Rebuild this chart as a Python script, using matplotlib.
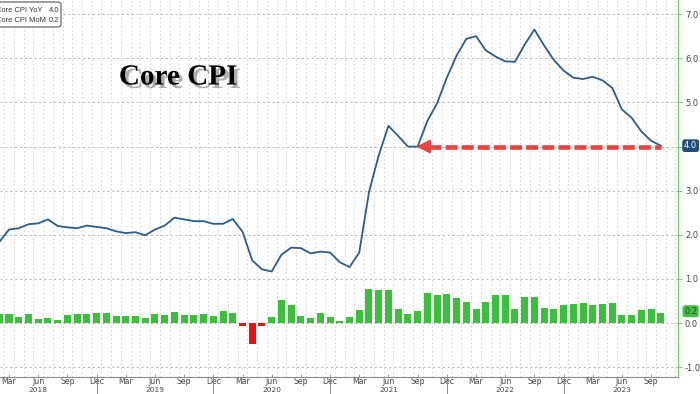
import matplotlib
matplotlib.use("Agg")
import matplotlib.pyplot as plt
import matplotlib.patheffects as pe
from matplotlib.patches import Polygon, FancyBboxPatch
from matplotlib.transforms import blended_transform_factory
import numpy as np

plt.rcParams['lines.scale_dashes'] = False

# ---- data (monthly, Jan 2018 .. Oct 2023) ----
core_cpi_yoy = [
    1.80, 1.84, 2.12, 2.15, 2.24, 2.26, 2.35, 2.20, 2.17, 2.15, 2.21, 2.18,   # 2018
    2.15, 2.08, 2.04, 2.06, 1.99, 2.12, 2.21, 2.39, 2.35, 2.31, 2.31, 2.25,   # 2019
    2.25, 2.36, 2.07, 1.42, 1.22, 1.17, 1.55, 1.71, 1.70, 1.58, 1.62, 1.60,   # 2020
    1.38, 1.27, 1.60, 2.97, 3.80, 4.47, 4.24, 4.00, 4.00, 4.58, 4.98, 5.56,   # 2021
    6.06, 6.44, 6.50, 6.18, 6.04, 5.93, 5.92, 6.31, 6.65, 6.29, 5.96, 5.72,   # 2022
    5.56, 5.53, 5.58, 5.50, 5.33, 4.84, 4.65, 4.34, 4.13, 4.02,               # 2023
]
core_cpi_mom = [
    0.30, 0.21, 0.21, 0.14, 0.20, 0.09, 0.12, 0.06, 0.18, 0.21, 0.21, 0.24,   # 2018
    0.24, 0.16, 0.17, 0.16, 0.12, 0.21, 0.18, 0.26, 0.18, 0.19, 0.20, 0.17,   # 2019
    0.27, 0.24, -0.07, -0.48, -0.07, 0.14, 0.53, 0.42, 0.17, 0.11, 0.24, 0.14, # 2020
    0.04, 0.14, 0.30, 0.78, 0.75, 0.75, 0.32, 0.20, 0.27, 0.68, 0.64, 0.67,   # 2021
    0.57, 0.49, 0.32, 0.49, 0.64, 0.63, 0.32, 0.60, 0.59, 0.35, 0.32, 0.42,   # 2022
    0.43, 0.46, 0.41, 0.43, 0.45, 0.18, 0.18, 0.29, 0.32, 0.24,               # 2023
]
years = ['2018', '2019', '2020', '2021', '2022', '2023']
quarter_months = ['Mar', 'Jun', 'Sep', 'Dec']
y_ticks = [-1.0, 0.0, 1.0, 2.0, 3.0, 4.0, 5.0, 6.0, 7.0]
legend_labels = ['Core CPI YoY', 'Core CPI MoM']
legend_values = ['4.0', '0.2']
title = 'Core CPI'

x = np.arange(len(core_cpi_yoy))

W, H = 700, 394
fig = plt.figure(figsize=(W / 100, H / 100), dpi=100)
fig.patch.set_facecolor('white')
ax = fig.add_axes([0, 17 / H, 678 / W, 377 / H])
ax.set_xlim(1.075, 70.76)
ax.set_ylim(-1.22, 7.32)

# grid
for m in range(len(x) + 2):
    ax.axvline(m + 0.5, color='#c4c4c4', lw=0.6, ls=(0, (1, 2)), zorder=0)
for v in y_ticks:
    ax.axhline(v, color='#a8a8a8', lw=0.6, ls=(0, (1.5, 2)), zorder=0)

# bars
colors = ['#3cbf3c' if v >= 0 else '#f01010' for v in core_cpi_mom]
ax.bar(x, core_cpi_mom, width=0.72, color=colors, zorder=2)

# line
ax.plot(x, core_cpi_yoy, color='#2a5d8c', lw=1.3, zorder=3,
        solid_joinstyle='round')

# red dashed arrow at last YoY value
ax.plot([45.2, 69.0], [4.0, 4.0], color='#e8433f', lw=3.3,
        dashes=(8.6, 3.0), solid_capstyle='butt', dash_capstyle='butt', zorder=4)
ax.add_patch(Polygon([[44.0, 4.0], [45.3, 4.14], [45.3, 3.86]],
                     closed=True, color='#e8433f', zorder=4))

# spines
for s in ['top', 'left']:
    ax.spines[s].set_visible(False)
ax.spines['bottom'].set_color('#8a8a8a')
ax.spines['bottom'].set_linewidth(0.8)
ax.spines['right'].set_color('#6cc46c')
ax.spines['right'].set_linewidth(0.8)

# y axis on right (4.0 label is shown by the badge instead)
ax.yaxis.tick_right()
ax.set_yticks(y_ticks)
ax.set_yticklabels(['' if v == 4.0 else f'{v:.1f}' for v in y_ticks])
ax.tick_params(axis='y', labelsize=6, colors='#444444', length=3, width=0.6,
               pad=2, direction='out')
ax.tick_params(axis='y', color='#6cc46c')

# x axis
qpos, qlab = [], []
for yi, yr in enumerate(years):
    for qi, ml in enumerate(quarter_months):
        pos = yi * 12 + 2 + qi * 3
        if pos <= x[-1]:
            qpos.append(pos)
            qlab.append(ml)
ax.set_xticks(qpos)
ax.set_xticklabels(qlab)
ax.tick_params(axis='x', labelsize=5.6, colors='#444444', length=2, width=0.6,
               pad=0.2, color='#8a8a8a', direction='in')

tr = blended_transform_factory(ax.transData, ax.transAxes)
for yi, yr in enumerate(years):
    ax.text(yi * 12 + 5, -0.0335, yr, transform=tr, ha='center', va='center',
            fontsize=5.3, color='#444444', clip_on=False)
    if yi > 0:
        ax.plot([yi * 12 - 1, yi * 12 - 1], [0, -0.05], transform=tr,
                color='#8a8a8a', lw=0.7, clip_on=False)

# value badges on the right
try_tr = blended_transform_factory(ax.transAxes, ax.transData)
ax.text(1.009, core_cpi_yoy[-1], legend_values[0], transform=try_tr,
        ha='left', va='center', fontsize=6, color='white', zorder=6,
        bbox=dict(boxstyle='round,pad=0.22,rounding_size=0.3',
                  fc='#1f4e7a', ec='none'))
ax.text(1.009, core_cpi_mom[-1] + 0.03, legend_values[1], transform=try_tr,
        ha='left', va='center', fontsize=6, color='#175c17', zorder=6,
        bbox=dict(boxstyle='round,pad=0.18,rounding_size=0.3',
                  fc='#44bb44', ec='none'))

# legend box (cut at left edge)
box = FancyBboxPatch((-12 / W, 1 - 27 / H), 73 / W, 25 / H,
                     boxstyle='round,pad=0,rounding_size=0.006',
                     transform=fig.transFigure, fc='white', ec='#555555',
                     lw=0.8, zorder=10)
fig.patches.append(box)
for i, (lab, val) in enumerate(zip(legend_labels, legend_values)):
    yy = 1 - (10 + 10 * i) / H
    fig.text(-4.5 / W, yy, lab, ha='left', va='center', fontsize=5.4,
             family='Liberation Sans', color='#333333', zorder=11)
    fig.text(49 / W, yy, val, ha='left', va='center', fontsize=5.4,
             family='Liberation Sans', color='#333333', zorder=11)

# title with shadow
fig.text(178 / W, 1 - 77 / H, title, ha='center', va='center',
         fontsize=21, fontweight='bold', family='Liberation Serif',
         color='black', zorder=12,
         path_effects=[pe.SimplePatchShadow(offset=(2.5, -2.5),
                                            shadow_rgbFace='#777777',
                                            alpha=0.6),
                       pe.Normal()])

fig.savefig('out.png', dpi=100, facecolor='white')
